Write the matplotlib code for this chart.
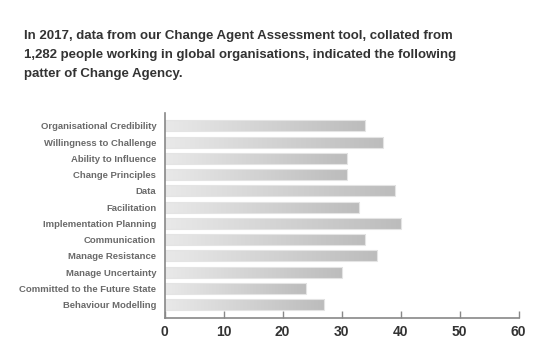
import matplotlib
matplotlib.use("Agg")
import matplotlib.pyplot as plt
import numpy as np
from matplotlib.colors import LinearSegmentedColormap

categories = ["Organisational Credibility", "Willingness to Challenge", "Ability to Influence",
              "Change Principles", "Data", "Facilitation", "Implementation Planning",
              "Communication", "Manage Resistance", "Manage Uncertainty",
              "Committed to the Future State", "Behaviour Modelling"]
values = [34, 37, 31, 31, 39, 33, 40, 34, 36, 30, 24, 27]
xticks = [0, 10, 20, 30, 40, 50, 60]

plt.rcParams['font.family'] = ['Liberation Sans', 'DejaVu Sans']

fig = plt.figure(figsize=(5.43, 3.62), dpi=100)
ax = fig.add_axes([0.303, 0.122, 0.652, 0.566])

y = np.arange(len(categories))
bars = ax.barh(y, values, height=0.68, color='none', edgecolor='#e4e4e4', linewidth=0.8, zorder=2)
grad = np.linspace(0, 1, 256).reshape(1, -1)
cmap = LinearSegmentedColormap.from_list('g', ['#e9e9e9', '#bcbcbc'])
for b in bars:
    x0, y0, w, h = b.get_x(), b.get_y(), b.get_width(), b.get_height()
    im = ax.imshow(grad, extent=[x0, x0 + w, y0, y0 + h], cmap=cmap, aspect='auto', zorder=1,
                   interpolation='bicubic')
    im.set_clip_path(b)

ax.set_xlim(0, 60)
ax.set_ylim(len(categories) - 1 + 0.82, -0.8)
ax.set_xticks(xticks)
ax.set_xticklabels([str(t) for t in xticks], fontsize=10, fontweight='bold', color='#333333')
ax.set_yticks(y)
ax.set_yticklabels(categories, fontsize=6.8, fontweight='bold', color='#6a6a6a')
ax.tick_params(axis='x', direction='in', length=5, width=1, color='#888888', pad=5)
ax.tick_params(axis='y', length=0, pad=6)
for s in ['top', 'right']:
    ax.spines[s].set_visible(False)
for s in ['left', 'bottom']:
    ax.spines[s].set_color('#888888')
    ax.spines[s].set_linewidth(1.2)

title = ("In 2017, data from our Change Agent Assessment tool, collated from\n"
         "1,282 people working in global organisations, indicated the following\n"
         "patter of Change Agency.")
fig.text(24 / 543, 1 - 30 / 362, title, ha='left', va='top', fontsize=9.5, fontweight='bold',
         color='#333333', linespacing=1.75)

fig.savefig("out.png", dpi=100)
